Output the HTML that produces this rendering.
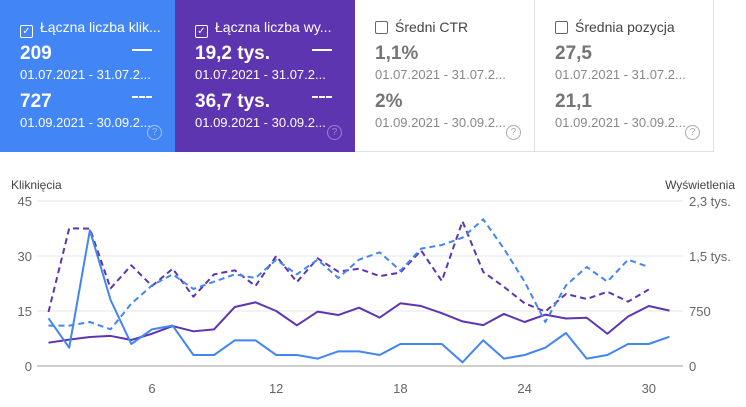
<!DOCTYPE html>
<html><head><meta charset="utf-8"><style>
body{margin:0;width:746px;height:407px;background:#fff;font-family:"Liberation Sans",sans-serif;position:relative;overflow:hidden}
.card{position:absolute;top:0;height:152px;box-sizing:border-box;padding-left:20px}
.t{position:absolute;top:19px;left:20px;font-size:14px;white-space:nowrap}
.cb{display:inline-block;width:11px;height:11px;border:1.5px solid currentColor;border-radius:2px;vertical-align:-2px;margin-right:7px;font-size:10px;line-height:11px;text-align:center}
.n{position:absolute;left:20px;font-size:19px;font-weight:bold}
.d{position:absolute;left:20px;font-size:13px;white-space:nowrap}
.h{position:absolute;width:13px;height:13px;border:1.5px solid;border-radius:50%;font-size:10px;line-height:13px;text-align:center;top:125px}
.ln{position:absolute;width:20px;border-top:2px solid #fff}
.ln.ds{border-top-style:dashed}
.w{color:#fff}.g{color:#757575}
</style></head><body>
<div class="card w" style="left:0;width:175px;background:#4285f4">
<div class="t"><span class="cb">✓</span>Łączna liczba klik...</div>
<div class="n" style="top:43px">209</div><div class="ln" style="left:132px;top:49px"></div>
<div class="d" style="top:67px">01.07.2021 - 31.07.2...</div>
<div class="n" style="top:91px">727</div><div class="ln ds" style="left:132px;top:96px"></div>
<div class="d" style="top:115px">01.09.2021 - 30.09.2...</div>
<div class="h" style="left:147px;color:#a0c0f8">?</div></div>
<div class="card w" style="left:175px;width:180px;background:#5e35b1">
<div class="t"><span class="cb">✓</span>Łączna liczba wy...</div>
<div class="n" style="top:43px">19,2 tys.</div><div class="ln" style="left:137px;top:49px"></div>
<div class="d" style="top:67px">01.07.2021 - 31.07.2...</div>
<div class="n" style="top:91px">36,7 tys.</div><div class="ln ds" style="left:137px;top:96px"></div>
<div class="d" style="top:115px">01.09.2021 - 30.09.2...</div>
<div class="h" style="left:152px;color:#9a80d0">?</div></div>
<div class="card" style="left:355px;width:180px;border-bottom:1px solid #e0e0e0;border-right:1px solid #e0e0e0">
<div class="t" style="color:#444"><span class="cb" style="color:#666"></span>Średni CTR</div>
<div class="n g" style="top:43px">1,1%</div>
<div class="d g" style="top:67px;color:#888">01.07.2021 - 31.07.2...</div>
<div class="n g" style="top:91px">2%</div>
<div class="d g" style="top:115px;color:#888">01.09.2021 - 30.09.2...</div>
<div class="h" style="left:151px;color:#aaa">?</div></div>
<div class="card" style="left:535px;width:179px;border-bottom:1px solid #e0e0e0;border-right:1px solid #e0e0e0">
<div class="t" style="color:#444"><span class="cb" style="color:#666"></span>Średnia pozycja</div>
<div class="n g" style="top:43px">27,5</div>
<div class="d g" style="top:67px;color:#888">01.07.2021 - 31.07.2...</div>
<div class="n g" style="top:91px">21,1</div>
<div class="d g" style="top:115px;color:#888">01.09.2021 - 30.09.2...</div>
<div class="h" style="left:150px;color:#aaa">?</div></div>
<svg id="chart" width="746" height="407" style="position:absolute;left:0;top:0"></svg>
<script>
const days=[1,2,3,4,5,6,7,8,9,10,11,12,13,14,15,16,17,18,19,20,21,22,23,24,25,26,27,28,29,30,31];
const clicksJul=[13,5,37,18,6,10,11,3,3,7,7,3,3,2,4,4,3,6,6,6,1,7,2,3,5,9,2,3,6,6,8];
const clicksSep=[11,11,12,10,17,22,25,21,23,25,24,29,25,29,24,29,31,26,32,33,35,40,32,23,12,22,27,23,29,27];
const imprJul=[318,360,395,410,355,440,545,473,500,805,868,750,555,741,695,795,660,855,818,720,608,558,710,600,700,648,658,440,675,818,755];
const imprSep=[736,1877,1873,1059,1373,1091,1327,945,1250,1305,1091,1500,1145,1468,1286,1327,1225,1275,1575,1160,1973,1283,1080,855,743,982,914,1013,878,1044];
const leftTicks=[0,15,30,45];
const rightTicks=[0,750,1500,2250];
const rightLabels=["0","750","1,5 tys.","2,3 tys."];
const xTicks=[6,12,18,24,30];
const svg=document.getElementById('chart');const NS='http://www.w3.org/2000/svg';
const X0=37,X1=683,Y0=366,Y1=201;
const x=d=>48.5+(d-1)*20.7;
const yL=v=>Y0-(v/45)*(Y0-Y1);
const yR=v=>Y0-(v/2250)*(Y0-Y1);
function mk(tag,at,txt){const e=document.createElementNS(NS,tag);for(const k in at)e.setAttribute(k,at[k]);if(txt!==undefined)e.textContent=txt;svg.appendChild(e);return e;}
leftTicks.forEach((v,i)=>{
const l=mk('line',{x1:X0,x2:X1,y1:yL(v),y2:yL(v),stroke:i==0?'#9e9e9e':'#e6e6e6','stroke-width':1});


const t=mk('text',{x:32,y:yL(v)+5,'text-anchor':'end','font-size':13,fill:'#666','font-family':'Liberation Sans'},v);


});
rightTicks.forEach((v,i)=>{
const t=mk('text',{x:689,y:yR(v)+5,'font-size':13,fill:'#666','font-family':'Liberation Sans'},rightLabels[i]);


});
xTicks.forEach(d=>{
const t=mk('text',{x:x(d),y:393,'text-anchor':'middle','font-size':13,fill:'#666','font-family':'Liberation Sans'},d);


});
const lt=mk('text',{x:11,y:189,'font-size':12,fill:'#444','font-family':'Liberation Sans'},'Kliknięcia');


const rt=mk('text',{x:735,y:189,'text-anchor':'end','font-size':12,fill:'#444','font-family':'Liberation Sans'},'Wyświetlenia');


function series(arr,yf,color,dash,name){
const pts=arr.map((v,i)=>x(days[i])+','+yf(v)).join(' ');
const p=mk('polyline',{points:pts,fill:'none',stroke:color,'stroke-width':2,'stroke-linejoin':'round'});
if(dash)p.setAttribute('stroke-dasharray','6,4');


}
series(imprJul,yR,'#5e35b1',false,'impressions-jul-line');
series(imprSep,yR,'#5e35b1',true,'impressions-sep-line');
series(clicksJul,yL,'#4285f4',false,'clicks-jul-line');
series(clicksSep,yL,'#4285f4',true,'clicks-sep-line');
</script>
</body></html>
